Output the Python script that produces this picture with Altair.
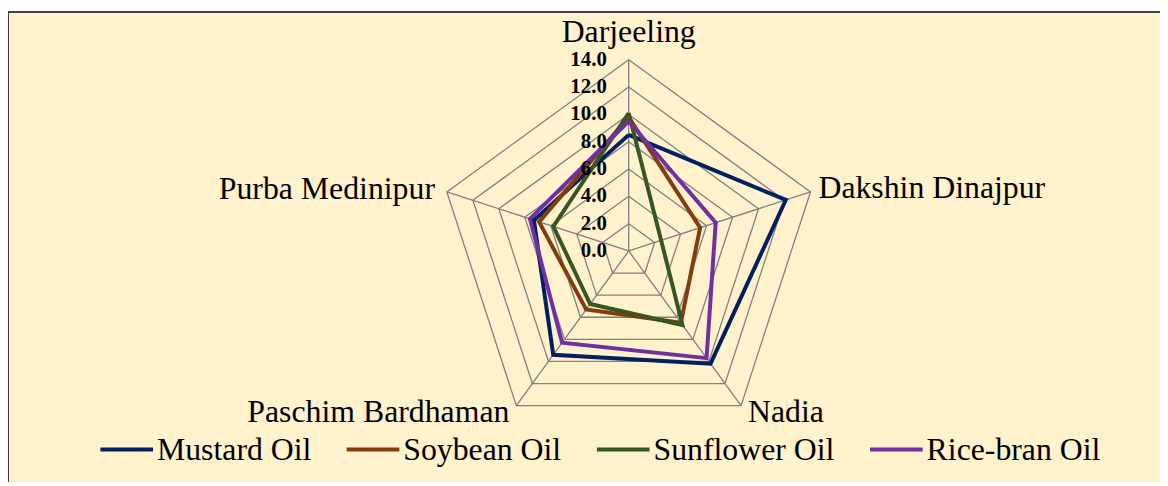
import math
import altair as alt
import pandas as pd

# ---------------- data ----------------
categories = ["Darjeeling", "Dakshin Dinajpur", "Nadia", "Paschim Bardhaman", "Purba Medinipur"]
series_names = ["Mustard Oil", "Soybean Oil", "Sunflower Oil", "Rice-bran Oil"]
mustard = [8.5, 12.1, 10.2, 9.4, 7.3]
soybean = [9.8, 5.5, 6.5, 5.3, 6.9]
sunflower = [10.1, 2.5, 6.7, 4.8, 5.8]
rice_bran = [9.5, 6.7, 9.7, 8.3, 7.6]
tick_values = [0, 2, 4, 6, 8, 10, 12, 14]

series_values = [mustard, soybean, sunflower, rice_bran]
colors = ["#002060", "#843C0C", "#375623", "#7030A0"]

N = len(categories)
R_MAX = 14.0

# ---------------- layout ----------------
W, H = 1160, 474
CX, CY = 625.0, 243.0          # centre of radar in chart pixels
K = 192.5 / R_MAX               # pixels per unit
x_dom = [-CX / K, (W - CX) / K]
y_dom = [-(H - CY) / K, CY / K]
FONT = "Liberation Serif"

xs = alt.Scale(domain=x_dom, nice=False, zero=False)
ys = alt.Scale(domain=y_dom, nice=False, zero=False)

# series polygons (closed)
rows = []
for name, vals in zip(series_names, series_values):
    for i in range(N + 1):
        rows.append({"series": name, "idx": i, "value": vals[i % N]})
df_series = pd.DataFrame(rows)

# grid rings
ring_rows = []
for r in tick_values[1:]:
    for i in range(N + 1):
        ring_rows.append({"ring": r, "idx": i})
df_rings = pd.DataFrame(ring_rows)

df_spokes = pd.DataFrame({"idx": list(range(N)), "r": [R_MAX] * N})
df_ticks = pd.DataFrame({"v": tick_values, "label": [f"{v:.1f}" for v in tick_values]})

ang = f"datum.idx * 2 * PI / {N}"

bg = alt.Chart(pd.DataFrame({"a": [0]})).mark_rect(
    fill="#FFF2CC", stroke="#404040", strokeWidth=2
).encode(x=alt.value(0), x2=alt.value(1400), y=alt.value(2.5), y2=alt.value(700))

rings = alt.Chart(df_rings).transform_calculate(
    px=f"datum.ring * sin({ang})", py=f"datum.ring * cos({ang})"
).mark_line(color="#808080", strokeWidth=1.3).encode(
    x=alt.X("px:Q", scale=xs, axis=None),
    y=alt.Y("py:Q", scale=ys, axis=None),
    detail="ring:N",
    order="idx:Q",
)

spokes = alt.Chart(df_spokes).transform_calculate(
    x0="0", y0="0",
    px=f"datum.r * sin({ang})", py=f"datum.r * cos({ang})"
).mark_rule(color="#808080", strokeWidth=1.3).encode(
    x=alt.X("x0:Q", scale=xs, axis=None),
    y=alt.Y("y0:Q", scale=ys, axis=None),
    x2="px:Q", y2="py:Q",
)

lines = alt.Chart(df_series).transform_calculate(
    px=f"datum.value * sin({ang})", py=f"datum.value * cos({ang})"
).mark_line(strokeWidth=4, strokeJoin="miter").encode(
    x=alt.X("px:Q", scale=xs, axis=None),
    y=alt.Y("py:Q", scale=ys, axis=None),
    color=alt.Color(
        "series:N",
        scale=alt.Scale(domain=series_names, range=colors),
        sort=series_names,
        legend=alt.Legend(
            title=None, orient="none", direction="horizontal",
            legendX=91, legendY=414.5, padding=0, gridAlign="none",
            symbolType="stroke", symbolSize=2809, symbolStrokeWidth=4,
            labelFont=FONT, labelFontSize=32, labelColor="black",
            labelOffset=2, columnPadding=27, labelLimit=400,
        ),
    ),
    order="idx:Q",
)

ticks = alt.Chart(df_ticks).transform_calculate(x0="0").mark_text(
    font=FONT, fontSize=21, fontWeight="bold", align="right", baseline="middle",
    dx=-22, color="black"
).encode(
    x=alt.X("x0:Q", scale=xs, axis=None),
    y=alt.Y("v:Q", scale=ys, axis=None),
    text="label:N",
)

label_style = {
    "Darjeeling": dict(align="center", dx=0, dy=-18),
    "Dakshin Dinajpur": dict(align="left", dx=8, dy=6),
    "Nadia": dict(align="left", dx=7, dy=16),
    "Paschim Bardhaman": dict(align="right", dx=-7, dy=16),
    "Purba Medinipur": dict(align="right", dx=-12, dy=7),
}
label_layers = []
for i, c in enumerate(categories):
    d = pd.DataFrame({"cat": [c], "idx": [i], "r": [R_MAX]})
    st = label_style[c]
    label_layers.append(
        alt.Chart(d).transform_calculate(
            px=f"datum.r * sin({ang})", py=f"datum.r * cos({ang})"
        ).mark_text(
            font=FONT, fontSize=32, color="black", baseline="alphabetic",
            align=st["align"], dx=st["dx"], dy=st["dy"]
        ).encode(
            x=alt.X("px:Q", scale=xs, axis=None),
            y=alt.Y("py:Q", scale=ys, axis=None),
            text="cat:N",
        )
    )

chart = alt.layer(bg, rings, spokes, lines, ticks, *label_layers).properties(
    width=W, height=H, padding=0, autosize=alt.AutoSizeParams(type="none"),
    background="white",
).configure_view(stroke=None)

chart.save("out.html", embed_options={"renderer": "svg", "actions": False})
